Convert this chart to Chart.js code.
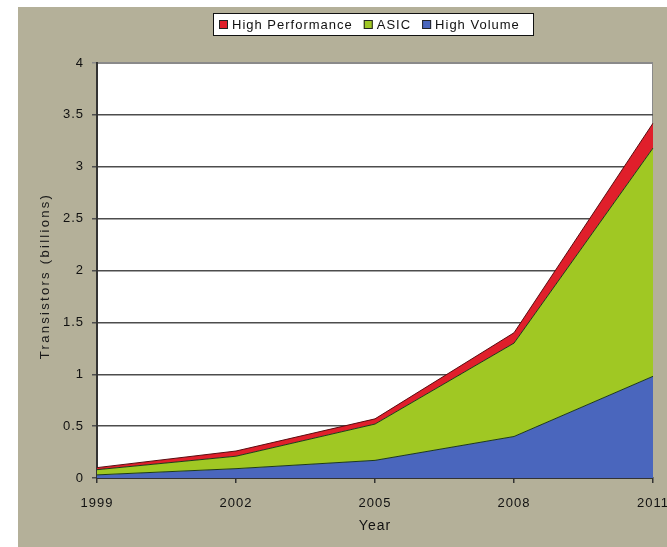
<!DOCTYPE html>
<html>
<head>
<meta charset="utf-8">
<script src="https://cdn.jsdelivr.net/npm/chart.js@4.4.1/dist/chart.umd.min.js"></script>
<style>
  html, body { margin: 0; padding: 0; background: #fff; }
</style>
</head>
<body>
<canvas id="chart" width="667" height="547"></canvas>
<script>
const years = ['1999', '2002', '2005', '2008', '2011'];
const highVolume = [0.03, 0.09, 0.17, 0.40, 0.98];
const asic = [0.05, 0.12, 0.35, 0.90, 2.20];
const highPerformance = [0.02, 0.05, 0.05, 0.10, 0.24];

const seriesNames = ['High Volume', 'ASIC', 'High Performance'];
const seriesColors = ['#4a66bd', '#a0c823', '#e01f2b'];

const FONT = "'Liberation Sans', Arial, sans-serif";

// background, khaki frame and white plot area
const framePlugin = {
    id: 'frame',
    beforeLayout(chart) {
        chart.ctx.letterSpacing = '1px';
    },
    beforeDraw(chart) {
        const { ctx, chartArea: a } = chart;
        ctx.save();
        ctx.fillStyle = '#ffffff';
        ctx.fillRect(0, 0, chart.width, chart.height);
        ctx.fillStyle = '#b4b099';
        ctx.fillRect(18, 7, chart.width - 18, chart.height - 7);
        ctx.fillStyle = '#ffffff';
        ctx.fillRect(a.left, a.top, a.right - a.left, a.bottom - a.top);
        ctx.strokeStyle = '#8a8a8a';
        ctx.lineWidth = 1;
        ctx.strokeRect(a.left, a.top + 0.5, a.right - a.left - 0.5, a.bottom - a.top);
        ctx.restore();
        ctx.letterSpacing = '1px';
    },
    afterDraw(chart) {
        const ctx = chart.ctx;
        ctx.save();

        // y axis title
        ctx.translate(45, 276);
        ctx.rotate(-Math.PI / 2);
        ctx.font = '13px ' + FONT;
        ctx.letterSpacing = '2.3px';
        ctx.fillStyle = '#1a1a1a';
        ctx.textAlign = 'center';
        ctx.textBaseline = 'middle';
        ctx.fillText('Transistors (billions)', 0, 0);
        ctx.restore();

        // legend box (reverse order: top series first)
        ctx.save();
        ctx.fillStyle = '#ffffff';
        ctx.fillRect(213, 13, 321, 23);
        ctx.strokeStyle = '#111';
        ctx.lineWidth = 1;
        ctx.strokeRect(213.5, 13.5, 320, 22);
        ctx.font = '13px ' + FONT;
        ctx.letterSpacing = '1px';
        ctx.textBaseline = 'middle';
        ctx.textAlign = 'left';
        let x = 219;
        for (let i = seriesNames.length - 1; i >= 0; i--) {
            ctx.fillStyle = seriesColors[i];
            ctx.fillRect(x, 20, 9, 9);
            ctx.strokeStyle = '#222';
            ctx.strokeRect(x + 0.5, 20.5, 8, 8);
            ctx.fillStyle = '#111';
            ctx.fillText(seriesNames[i], x + 13, 25);
            x += 13 + ctx.measureText(seriesNames[i]).width + 11;
        }
        ctx.restore();
    }
};

const values = [highVolume, asic, highPerformance];
const datasets = values.map((data, i) => ({
    label: seriesNames[i],
    data: data,
    backgroundColor: seriesColors[i],
    borderColor: i === 2 ? '#5a0c10' : '#1d3a17',
    borderWidth: 1,
    pointRadius: 0,
    tension: 0,
    fill: i === 0 ? 'origin' : '-1'
}));

const ctx = document.getElementById('chart').getContext('2d');
new Chart(ctx, {
    type: 'line',
    data: { labels: years, datasets: datasets },
    options: {
        responsive: false,
        animation: false,
        layout: { padding: { left: 18, right: 14, top: 63, bottom: 0 } },
        plugins: {
            legend: { display: false },
            tooltip: { enabled: false }
        },
        scales: {
            x: {
                grid: {
                    drawOnChartArea: false,
                    drawTicks: true,
                    tickLength: 5,
                    color: '#333',
                    lineWidth: 1.5
                },
                border: { color: '#333', width: 2 },
                ticks: {
                    color: '#111',
                    font: { family: FONT, size: 13 },
                    padding: 13,
                    maxRotation: 0,
                    autoSkip: false
                },
                title: {
                    display: true,
                    text: 'Year',
                    color: '#111',
                    font: { family: FONT, size: 14 },
                    padding: { top: 0, bottom: 12 }
                },
                afterFit(scale) {
                    scale.height = 69;
                    scale.paddingLeft = 0;
                    scale.paddingRight = 0;
                }
            },
            y: {
                stacked: true,
                min: 0,
                max: 4,
                ticks: {
                    stepSize: 0.5,
                    color: '#111',
                    font: { family: FONT, size: 13 },
                    padding: 8,
                    callback: (value) => String(value)
                },
                grid: {
                    color: (c) => c.tick && c.tick.value === 4 ? '#8a8a8a' : '#4d4d4d',
                    lineWidth: 1.5,
                    tickLength: 5
                },
                border: { color: '#333', width: 2 },
                afterFit(scale) {
                    scale.width = 79;
                }
            }
        }
    },
    plugins: [framePlugin]
});
</script>
</body>
</html>
